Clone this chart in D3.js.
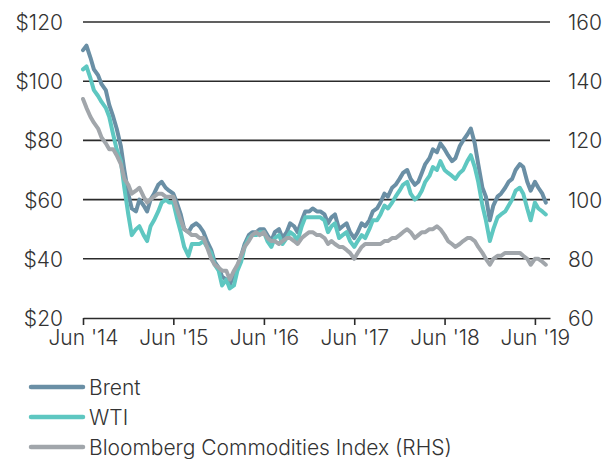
<!DOCTYPE html>
<html>
<head>
<meta charset="utf-8">
<script src="https://cdn.jsdelivr.net/npm/d3@7"></script>
<style>
  body { margin: 0; background: #fff; }
  text { font-family: Inter, Roboto, "Liberation Sans", sans-serif; font-weight: 300; fill: #333; }
</style>
</head>
<body>
<div id="chart"></div>
<script>
// semi-monthly observations, 1st and 15th, from Jun 2014
const startYear = 2014, startMonth = 5;
const brent = [
  110.5,112,108,104,102,99,97,92,88,84,78,70,62,57,
  56,60,58,56,60,62,65,66,64,63,62,59,55,50,49,51,52,51,49,46,43,39,37,34,
  33,31,35,37,41,45,48,49,49,50,50,48,46,49,50,47,49,52,51,49,53,56,56,57,
  56,56,55,52,54,55,50,51,52,49,47,49,52,51,53,56,57,59,62,61,64,65,67,69,
  70,67,65,66,69,72,74,77,76,79,77,75,73,74,78,80,82,84,79,72,64,61,53,58,
  61,62,64,66,67,70,72,71,66,63,66,64,62,59
];
const wti = [
  104,105,101,97,95,93,91,88,82,77,73,64,55,48,
  50,51,48,46,51,53,56,59,60,59,59,54,49,44,41,45,45,45,46,44,42,38,36,31,
  33,30,31,36,39,44,47,48,48,49,49,46,44,47,48,45,47,49,48,46,51,54,54,54,
  54,54,53,49,51,52,47,48,49,46,44,46,48,47,50,53,53,55,58,57,59,61,63,65,
  66,62,60,61,63,66,68,71,70,73,70,69,68,67,69,70,73,75,71,66,58,53,46,50,
  54,55,56,58,60,63,64,62,57,53,59,57,56,55
];
// Bloomberg Commodities Index, right-hand scale
const bcom = [
  134,131,128,126,124,121,119,117,117,115,112,107,105,102,
  103,104,101,99,100,101,102,102,101,101,101,97,93,90,89,88,88,87,87,84,80,78,77,76,
  76,73,76,78,81,84,86,88,89,88,89,87,86,86,85,86,87,87,86,85,87,88,89,89,
  88,88,87,85,86,85,84,84,83,82,80,82,84,85,85,85,85,85,86,86,87,87,88,89,
  90,89,87,88,89,89,90,90,91,90,88,86,85,84,85,86,87,87,86,84,82,80,78,80,
  81,81,82,82,82,82,82,81,80,78,80,80,79,78
];
const dates = brent.map((_, i) => new Date(startYear, startMonth + Math.floor(i / 2), i % 2 ? 15 : 1));

const leftTicks = [20, 40, 60, 80, 100, 120];
const rightTicks = [60, 80, 100, 120, 140, 160];
const xTicks = [2014, 2015, 2016, 2017, 2018, 2019];

const series = [
  { name: "Brent", values: brent, axis: "left", color: "#6a8fa5" },
  { name: "WTI", values: wti, axis: "left", color: "#5ec7c1" },
  { name: "Bloomberg Commodities Index (RHS)", values: bcom, axis: "right", color: "#a1a6ab" }
];

const width = 606, height = 459;
const margin = { top: 22, right: 56, bottom: 141, left: 83 };
const innerW = width - margin.left - margin.right;
const innerH = height - margin.top - margin.bottom;
const fontSize = "21px";

const svg = d3.select("#chart").append("svg")
  .attr("width", width)
  .attr("height", height);

const g = svg.append("g")
  .attr("transform", `translate(${margin.left},${margin.top})`);

const x = d3.scaleTime()
  .domain([new Date(2014, 5, 1), new Date(2019, 7, 1)])
  .range([0, innerW]);
const yL = d3.scaleLinear().domain([20, 120]).range([innerH, 0]);
const yR = d3.scaleLinear().domain([60, 160]).range([innerH, 0]);

// gridlines
g.selectAll(".grid")
  .data(leftTicks.filter(d => d > 20))
  .join("line")
    .attr("x1", 0).attr("x2", innerW)
    .attr("y1", d => yL(d)).attr("y2", d => yL(d))
    .style("stroke", "#2b2b2b")
    .style("stroke-width", 1.6);

// left axis labels
g.append("g")
  .call(d3.axisLeft(yL).tickValues(leftTicks).tickSize(0).tickPadding(20).tickFormat(d => "$" + d))
  .call(a => a.select(".domain").remove())
  .selectAll("text")
    .style("font-size", fontSize)
    .attr("dy", "0.36em");

// right axis labels
g.append("g")
  .attr("transform", `translate(${innerW},0)`)
  .call(d3.axisRight(yR).tickValues(rightTicks).tickSize(0).tickPadding(18))
  .call(a => a.select(".domain").remove())
  .selectAll("text")
    .style("font-size", fontSize)
    .attr("dy", "0.36em");

// bottom axis
const xAxis = g.append("g")
  .attr("transform", `translate(0,${innerH})`)
  .call(d3.axisBottom(x)
    .tickValues(xTicks.map(y => new Date(y, 5, 1)))
    .tickSize(7)
    .tickSizeOuter(0)
    .tickPadding(5)
    .tickFormat(d => "Jun '" + String(d.getFullYear()).slice(2)));
xAxis.select(".domain").style("stroke", "#2b2b2b").style("stroke-width", 1.6);
xAxis.selectAll(".tick line").style("stroke", "#2b2b2b").style("stroke-width", 1.6);
xAxis.selectAll("text").style("font-size", fontSize);

// lines
const lineL = d3.line().x((d, i) => x(dates[i])).y(d => yL(d));
const lineR = d3.line().x((d, i) => x(dates[i])).y(d => yR(d));

g.selectAll(".series")
  .data(series)
  .join("path")
    .attr("d", s => (s.axis === "left" ? lineL : lineR)(s.values))
    .attr("fill", "none")
    .style("stroke", s => s.color)
    .style("stroke-width", 4)
    .style("stroke-linejoin", "round")
    .style("stroke-linecap", "round");

// legend
const legend = svg.append("g")
  .attr("transform", "translate(31,387)");

const item = legend.selectAll("g")
  .data(series)
  .join("g")
    .attr("transform", (d, i) => `translate(0,${i * 30})`);

item.append("line")
  .attr("x1", 0).attr("x2", 52)
  .style("stroke", d => d.color)
  .style("stroke-width", 4.5)
  .style("stroke-linecap", "round");

item.append("text")
  .attr("x", 58)
  .attr("dy", "0.36em")
  .style("font-size", fontSize)
  .text(d => d.name);
</script>
</body>
</html>
